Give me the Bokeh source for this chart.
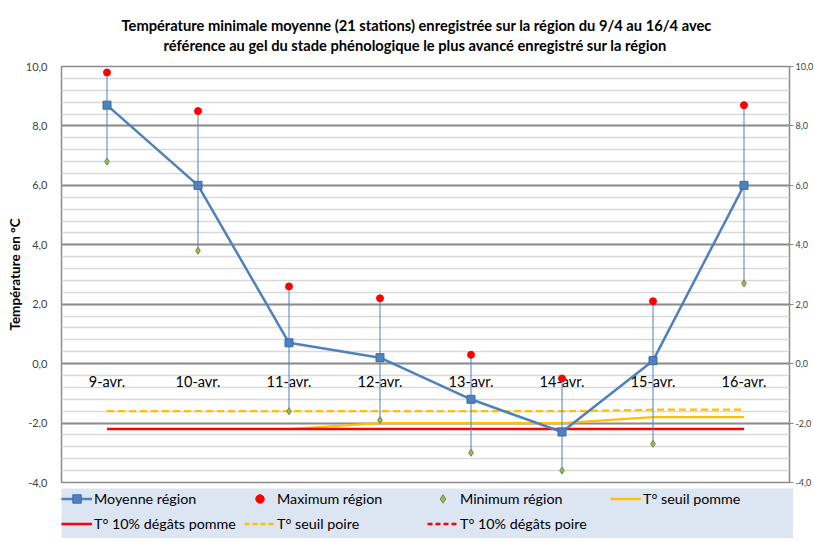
from bokeh.plotting import figure
from bokeh.layouts import column
from bokeh.models import (ColumnDataSource, Range1d, FactorRange, LinearAxis, SingleIntervalTicker,
                          CustomJSTickFormatter, Legend, LegendItem, Title)
from bokeh.core.properties import value
from bokeh.embed import file_html
from bokeh.resources import INLINE

dates = ["9-avr.", "10-avr.", "11-avr.", "12-avr.", "13-avr.", "14-avr.", "15-avr.", "16-avr."]
moyenne = [8.7, 6.0, 0.7, 0.2, -1.2, -2.3, 0.1, 6.0]
maximum = [9.8, 8.5, 2.6, 2.2, 0.3, -0.5, 2.1, 8.7]
minimum = [6.8, 3.8, -1.6, -1.9, -3.0, -3.6, -2.7, 2.7]
seuil_pomme = [-2.2, -2.2, -2.2, -2.0, -2.0, -2.0, -1.8, -1.8]
degats_pomme = [-2.2, -2.2, -2.2, -2.2, -2.2, -2.2, -2.2, -2.2]
seuil_poire = [-1.6, -1.6, -1.6, -1.6, -1.6, -1.6, -1.55, -1.55]
degats_poire = [-2.2, -2.2, -2.2, -2.2, -2.2, -2.2, -2.2, -2.2]
label_y = [0, 0, 0, 0, 0, 0, 0, 0]

title1 = "Température minimale moyenne (21 stations) enregistrée sur la région du 9/4 au 16/4 avec"
title2 = "référence au gel du stade phénologique le plus avancé enregistré sur la région"
legend_labels = ["Moyenne région", "Maximum région", "Minimum région", "T° seuil pomme",
                 "T° 10% dégâts pomme", "T° seuil poire", "T° 10% dégâts poire"]

FONT = "Lato"
BLUE = "#4F81BD"
RED = "#FF0000"
ORANGE = "#FFC000"
MIN_FILL = "#9BBB59"
MIN_LINE = "#71893F"

src = ColumnDataSource(dict(x=dates, moy=moyenne, mx=maximum, mn=minimum, sp=seuil_pomme,
                            dp=degats_pomme, so=seuil_poire, do=degats_poire, ly=label_y))

p = figure(frame_width=728, frame_height=416, x_range=FactorRange(*dates, range_padding=0),
           y_range=Range1d(-4, 10), output_backend="svg", toolbar_location=None,
           x_axis_location=None, min_border_left=61, min_border_right=0,
           min_border_top=66, min_border_bottom=6, title=None)

# spacer between the frame and the two title lines (stacked outward from the frame)
p.add_layout(Title(text=" ", text_font_size="1px", standoff=10), "above")
p.add_layout(Title(text=title2, align="left", offset=102, text_font=FONT, text_font_size="14.7px",
                   text_font_style="bold", text_color="#000000", standoff=0), "above")
p.add_layout(Title(text=title1, align="left", offset=60, text_font=FONT, text_font_size="14.7px",
                   text_font_style="bold", text_color="#000000", standoff=0), "above")

ticker = SingleIntervalTicker(interval=2, num_minor_ticks=5)
fmt = CustomJSTickFormatter(code="return tick.toFixed(1).replace('.', ',');")

ax = p.yaxis[0]
ax.ticker = ticker
ax.formatter = fmt
ax.axis_label = "Température en °C"
ax.axis_label_text_font = FONT
ax.axis_label_text_font_size = "13.5px"
ax.axis_label_text_font_style = "bold"
ax.axis_label_text_color = "#000000"
ax.axis_label_standoff = 0
ax.major_label_text_font = FONT
ax.major_label_text_font_size = "11px"
ax.major_label_text_color = "#404040"
ax.major_label_standoff = 10
ax.axis_line_color = None
ax.major_tick_line_color = None
ax.major_tick_out = 0
ax.minor_tick_line_color = None

rax = LinearAxis(ticker=ticker, formatter=fmt)
rax.major_label_text_font = FONT
rax.major_label_text_font_size = "9px"
rax.major_label_text_color = "#404040"
rax.major_label_standoff = 2
rax.axis_line_color = None
rax.major_tick_line_color = "#868686"
rax.major_tick_out = 4
rax.major_tick_in = 0
rax.minor_tick_line_color = None
p.add_layout(rax, "right")

p.xgrid.grid_line_color = None
p.ygrid.ticker = ticker
p.ygrid.grid_line_color = "#8c8c8c"
p.ygrid.grid_line_width = 2
p.ygrid.minor_grid_line_color = "#d9d9d9"
p.ygrid.minor_grid_line_width = 1.5
p.outline_line_color = "#8c8c8c"
p.outline_line_width = 1.5

# category labels drawn at the zero line
p.text(x="x", y="ly", text="x", source=src, text_align="center", text_baseline="top",
       y_offset=9, text_font=value(FONT), text_font_size="14.5px", text_color="#000000")

# threshold lines
p.line("x", "sp", source=src, line_color=ORANGE, line_width=2.2)
p.line("x", "dp", source=src, line_color=RED, line_width=2.5)
p.line("x", "so", source=src, line_color=ORANGE, line_width=2.2, line_dash="7 4")
p.line("x", "do", source=src, line_color=RED, line_width=2.2, line_dash="7 4")

# high-low bars
p.segment(x0="x", y0="mn", x1="x", y1="mx", source=src, line_color=BLUE, line_width=1)

p.line("x", "moy", source=src, line_color=BLUE, line_width=2.5)
p.scatter("x", "moy", source=src, marker="square", size=8, fill_color=BLUE, line_color="#3a6aa5")
p.scatter("x", "mx", source=src, marker="circle", size=7, fill_color=RED, line_color=RED)
p.scatter("x", "mn", source=src, marker="diamond", size=7, fill_color=MIN_FILL, line_color=MIN_LINE)

# legend strip: its own panel, same data drawn outside its visible range (only the legend shows)
lg = figure(frame_width=732, frame_height=50, x_range=FactorRange(*dates, range_padding=0),
            y_range=Range1d(100, 101), output_backend="svg", toolbar_location=None,
            x_axis_location=None, y_axis_location=None, min_border_left=61, min_border_right=0,
            min_border_top=0, min_border_bottom=0, background_fill_color="#DCE6F2",
            outline_line_color=None, title=None)
lg.xgrid.visible = False
lg.ygrid.visible = False
g_ml = lg.line("x", "moy", source=src, line_color=BLUE, line_width=2.5)
g_ms = lg.scatter("x", "moy", source=src, marker="square", size=7, fill_color=BLUE, line_color="#3a6aa5")
g_mx = lg.scatter("x", "mx", source=src, marker="circle", size=7, fill_color=RED, line_color=RED)
g_mn = lg.scatter("x", "mn", source=src, marker="diamond", size=6, fill_color=MIN_FILL, line_color=MIN_LINE)
g_sp = lg.line("x", "sp", source=src, line_color=ORANGE, line_width=2.5)
g_dp = lg.line("x", "dp", source=src, line_color=RED, line_width=2.5)
g_so = lg.line("x", "so", source=src, line_color=ORANGE, line_width=2.5, line_dash="5 3")
g_do = lg.line("x", "do", source=src, line_color=RED, line_width=2.5, line_dash="5 3")
groups = [[g_ml, g_ms], [g_mx], [g_mn], [g_sp], [g_dp], [g_so], [g_do]]

legend = Legend(items=[LegendItem(label=lab, renderers=r) for lab, r in zip(legend_labels, groups)],
                orientation="horizontal", ncols=4, location="top_left",
                background_fill_alpha=0, border_line_color=None,
                label_text_font=FONT, label_text_font_size="14.3px", label_text_color="#000000",
                glyph_width=31, label_standoff=2, label_width=146, spacing=4, padding=8, margin=0,
                label_height=21, glyph_height=21)
lg.add_layout(legend)

layout = column(p, lg, spacing=0)
open("out.html", "w").write(file_html(layout, INLINE))
